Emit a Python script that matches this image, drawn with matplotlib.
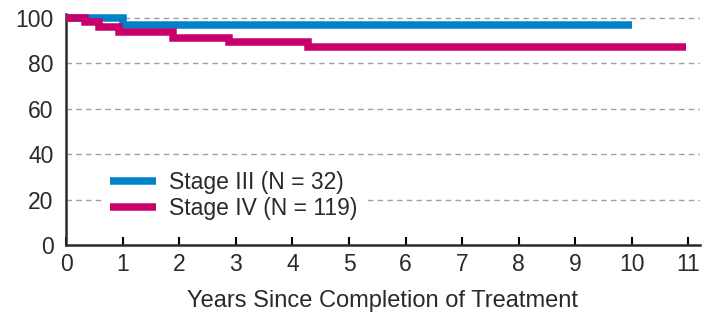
import numpy as np
import matplotlib.pyplot as plt

# Kaplan-Meier style step data (years, percent)
stage3_t = [0, 1.0, 10.0]
stage3_s = [100, 96.9, 96.9]
stage4_t = [0, 0.34, 0.58, 0.94, 1.88, 2.87, 4.28, 10.95]
stage4_s = [100, 98.3, 96.2, 94.0, 91.4, 89.6, 87.1, 87.1]

xticks = list(range(0, 12))
yticks = [0, 20, 40, 60, 80, 100]

blue = "#0082c8"
pink = "#c8006e"
txt = "#2a2a2a"

plt.rcParams['font.family'] = ['Liberation Sans', 'DejaVu Sans']
fig = plt.figure(figsize=(7.04, 3.15), dpi=100)
ax = fig.add_axes([0.094, 0.222, 0.9, 0.735])

ax.step(stage3_t, stage3_s, where="post", color=blue, lw=5.4, label="Stage III (N = 32)", zorder=3,
        solid_capstyle="butt", solid_joinstyle="miter")
ax.step(stage4_t, stage4_s, where="post", color=pink, lw=5.4, label="Stage IV (N = 119)", zorder=4,
        solid_capstyle="butt", solid_joinstyle="miter")

for y in yticks[1:]:
    ax.axhline(y, color="#a0a0a0", lw=1.0, ls=(0, (4, 3)), zorder=1)

ax.set_xlim(0, 11.2)
ax.set_ylim(0, 102)
ax.set_xticks(xticks)
ax.set_yticks(yticks)
ax.tick_params(axis="x", direction="in", length=6, width=1.5, labelsize=16.5, pad=6, labelcolor=txt)
ax.tick_params(axis="y", length=0, labelsize=16.5, pad=9, labelcolor=txt)
for s in ["top", "right"]:
    ax.spines[s].set_visible(False)
for s in ["left", "bottom"]:
    ax.spines[s].set_linewidth(1.8)
    ax.spines[s].set_color(txt)
ax.set_xlabel("Years Since Completion of Treatment", fontsize=17, labelpad=10, color=txt)

leg = ax.legend(loc="lower left", bbox_to_anchor=(0.04, 0.03), fontsize=16.5, frameon=True,
                handlelength=2.0, handletextpad=0.6, labelspacing=0.1, borderpad=0.3)
for t in leg.get_texts():
    t.set_color(txt)
leg.get_frame().set_edgecolor("none")
leg.get_frame().set_facecolor("white")
leg.get_frame().set_alpha(1)
leg.set_zorder(5)

fig.savefig("out.png", dpi=100)
